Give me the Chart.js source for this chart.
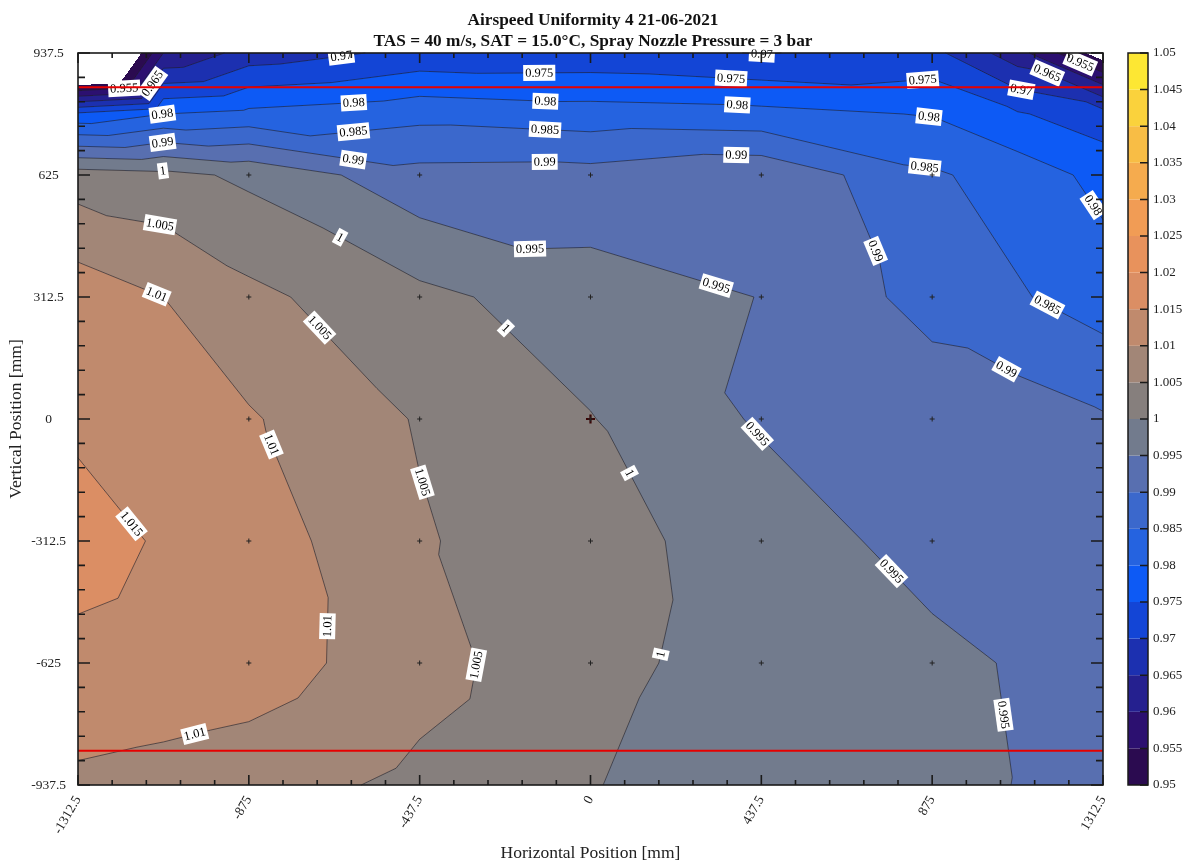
<!DOCTYPE html>
<html>
<head>
<meta charset="utf-8">
<title>Airspeed Uniformity 4 21-06-2021</title>
<script src="https://cdn.jsdelivr.net/npm/chart.js@4.4.1/dist/chart.umd.min.js"></script>
<style>
  html, body { margin: 0; padding: 0; background: #fff; }
</style>
</head>
<body>
<canvas id="chart" width="1186" height="864"></canvas>
<script>
// measurement grid [mm]
const xPos = [-1312.5, -1093.75, -875, -437.5, 0, 437.5, 875, 1093.75, 1312.5];
const yPos = [937.5, 781.25, 625, 312.5, 0, -312.5, -625, -937.5];

// normalised airspeed, one row per vertical position (top to bottom)
const z937 = [0.921, 0.960, 0.967, 0.9714, 0.9716, 0.9698, 0.9715, 0.962, 0.947];
const z781 = [0.976, 0.980, 0.9813, 0.9835, 0.9822, 0.9815, 0.9797, 0.9755, 0.972];
const z625 = [1.0025, 1.0015, 0.999, 0.9916, 0.9918, 0.9940, 0.9857, 0.9828, 0.9785];
const z312 = [1.013, 1.010, 1.0062, 1.0013, 0.9972, 0.9949, 0.9882, 0.9855, 0.9826];
const z0 = [1.0143, 1.0125, 1.0105, 1.0046, 1.0002, 0.9944, 0.9931, 0.9925, 0.9905];
const zm312 = [1.0165, 1.0146, 1.0126, 1.0055, 1.0014, 0.9982, 0.9928, 0.9922, 0.9915];
const zm625 = [1.014, 1.0133, 1.0125, 1.0070, 1.0010, 0.9985, 0.9965, 0.9945, 0.993];
const zm937 = [1.009, 1.0082, 1.0073, 1.0038, 1.0002, 0.9975, 0.9962, 0.9949, 0.9937];
const zRows = [z937, z781, z625, z312, z0, zm312, zm625, zm937];

// probe positions (dots) and the reference probe
const probeX = [-875, -437.5, 0, 437.5, 875];
const probeY = [625, 312.5, 0, -312.5, -625];
const refProbeX = [0];
const refProbeY = [0];

// red limit lines
const limitY = [850, -850];

// axis ticks
const xTickVals = [-1312.5, -875, -437.5, 0, 437.5, 875, 1312.5];
const yTickVals = [-937.5, -625, -312.5, 0, 312.5, 625, 937.5];
const cbTicks = [0.95, 0.955, 0.96, 0.965, 0.97, 0.975, 0.98, 0.985, 0.99, 0.995, 1,
                 1.005, 1.01, 1.015, 1.02, 1.025, 1.03, 1.035, 1.04, 1.045, 1.05];
const bandColors = ['#2b0b50', '#2c1070', '#25208f', '#1c30b0', '#1345d6',
                    '#0d5af5', '#2563e0', '#3b68cc', '#586fb0', '#727b8d',
                    '#867f7d', '#a28677', '#c08a6d', '#db8e64', '#e8925c',
                    '#f19c55', '#f5ab4e', '#f8bd45', '#fad23c', '#fde733'];

const serif = "'Liberation Serif', 'Times New Roman', serif";
Chart.defaults.font.family = serif;

function hexRgb(h) {
  return [parseInt(h.slice(1, 3), 16), parseInt(h.slice(3, 5), 16), parseInt(h.slice(5, 7), 16)];
}
const bandRgb = bandColors.map(hexRgb);

function cellOf(arr, v) {
  const asc = arr[1] > arr[0];
  for (let i = 0; i < arr.length - 1; i++) {
    const a = arr[i], b = arr[i + 1];
    if ((asc && v >= a && v <= b) || (!asc && v <= a && v >= b)) return [i, (v - a) / (b - a)];
  }
  return v < arr[0] === asc ? [0, 0] : [arr.length - 2, 1];
}

function valueAt(i, j, u, w) {
  const v00 = zRows[j][i], v10 = zRows[j][i + 1], v01 = zRows[j + 1][i], v11 = zRows[j + 1][i + 1];
  if (u >= w) return v00 + u * (v10 - v00) + w * (v11 - v10);
  return v00 + w * (v01 - v00) + u * (v11 - v01);
}

function levelText(L) { return String(+L.toFixed(3)); }

const contourPlugin = {
  id: 'contour',
  beforeDatasetsDraw(chart) {
    const {ctx, chartArea: a, scales: {x, y}} = chart;
    const left = Math.round(a.left), top = Math.round(a.top);
    const w = Math.round(a.right) - left, h = Math.round(a.bottom) - top;
    const lo = cbTicks[0], hi = cbTicks[cbTicks.length - 1];
    const step = (hi - lo) / bandColors.length;

    // filled bands, pixel by pixel
    const img = ctx.createImageData(w, h);
    const cols = [], rows = [];
    for (let px = 0; px < w; px++) cols.push(cellOf(xPos, x.getValueForPixel(left + px + 0.5)));
    for (let py = 0; py < h; py++) rows.push(cellOf(yPos, y.getValueForPixel(top + py + 0.5)));
    for (let py = 0; py < h; py++) {
      const [j, wv] = rows[py];
      for (let px = 0; px < w; px++) {
        const [i, u] = cols[px];
        const v = valueAt(i, j, u, wv);
        let c = [255, 255, 255];
        if (v >= lo && v <= hi) c = bandRgb[Math.min(bandColors.length - 1, Math.floor((v - lo) / step))];
        const k = (py * w + px) * 4;
        img.data[k] = c[0]; img.data[k + 1] = c[1]; img.data[k + 2] = c[2]; img.data[k + 3] = 255;
      }
    }
    ctx.putImageData(img, left, top);

    // contour lines (marching triangles on the same triangulation)
    const nx = xPos.length;
    const nodes = [];
    yPos.forEach((yv, j) => xPos.forEach((xv, i) => {
      nodes.push({x: x.getPixelForValue(xv), y: y.getPixelForValue(yv), v: zRows[j][i]});
    }));
    const tris = [];
    for (let j = 0; j < yPos.length - 1; j++) {
      for (let i = 0; i < nx - 1; i++) {
        const n00 = j * nx + i, n10 = n00 + 1, n01 = n00 + nx, n11 = n01 + 1;
        tris.push([n00, n10, n11], [n00, n01, n11]);
      }
    }
    const polylines = [];
    cbTicks.slice(1, -1).forEach(L => {
      const segs = [];
      const pts = new Map();
      tris.forEach(t => {
        const keys = [];
        [[t[0], t[1]], [t[1], t[2]], [t[0], t[2]]].forEach(([p, q]) => {
          const A = nodes[p], B = nodes[q];
          if ((A.v >= L) !== (B.v >= L)) {
            const key = Math.min(p, q) + '_' + Math.max(p, q);
            if (!pts.has(key)) {
              const s = (L - A.v) / (B.v - A.v);
              pts.set(key, {x: A.x + s * (B.x - A.x), y: A.y + s * (B.y - A.y)});
            }
            keys.push(key);
          }
        });
        if (keys.length === 2) segs.push(keys);
      });
      // chain segments into polylines
      const byKey = new Map();
      segs.forEach((s, idx) => s.forEach(k => {
        if (!byKey.has(k)) byKey.set(k, []);
        byKey.get(k).push(idx);
      }));
      const used = segs.map(() => false);
      const walk = (startKey, addFn) => {
        let key = startKey;
        for (;;) {
          const next = (byKey.get(key) || []).find(idx => !used[idx]);
          if (next === undefined) break;
          used[next] = true;
          const s = segs[next];
          key = s[0] === key ? s[1] : s[0];
          addFn(pts.get(key));
        }
      };
      // start from open ends first
      const isEnd = idx => segs[idx].some(k => byKey.get(k).length === 1) ? 0 : 1;
      const order = segs.map((s, idx) => idx).sort((p, q) => isEnd(p) - isEnd(q));
      order.forEach(idx => {
        if (used[idx]) return;
        used[idx] = true;
        let [k1, k2] = segs[idx];
        if (byKey.get(k2).length === 1) [k1, k2] = [k2, k1];
        const line = [pts.get(k1), pts.get(k2)];
        walk(k2, p => line.push(p));
        walk(k1, p => line.unshift(p));
        if (line[0].x > line[line.length - 1].x + 40) line.reverse();
        polylines.push({L, line});
      });
    });

    ctx.save();
    ctx.strokeStyle = 'rgba(30,30,40,0.75)';
    ctx.lineWidth = 0.8;
    polylines.forEach(({line}) => {
      ctx.beginPath();
      line.forEach((p, n) => n ? ctx.lineTo(p.x, p.y) : ctx.moveTo(p.x, p.y));
      ctx.stroke();
    });

    // inline labels along each line
    ctx.font = '12.5px ' + serif;
    ctx.textAlign = 'center';
    ctx.textBaseline = 'middle';
    const placed = [];
    const spacing = 192;
    polylines.forEach(({L, line}) => {
      const cum = [0];
      for (let n = 1; n < line.length; n++) {
        cum.push(cum[n - 1] + Math.hypot(line[n].x - line[n - 1].x, line[n].y - line[n - 1].y));
      }
      const total = cum[cum.length - 1];
      if (total < 30) return;
      const txt = levelText(L);
      const tw = ctx.measureText(txt).width + 4;
      for (let s = Math.min(85, total / 2); s < total - 10; s += spacing) {
        let n = 1;
        while (n < line.length - 1 && cum[n] < s) n++;
        const p0 = line[n - 1], p1 = line[n];
        const f = (s - cum[n - 1]) / Math.max(1e-6, cum[n] - cum[n - 1]);
        const px = p0.x + f * (p1.x - p0.x), py = p0.y + f * (p1.y - p0.y);
        if (placed.some(q => Math.hypot(q.x - px, q.y - py) < 26)) continue;
        placed.push({x: px, y: py});
        let ang = Math.atan2(p1.y - p0.y, p1.x - p0.x);
        if (ang > Math.PI / 2) ang -= Math.PI;
        if (ang < -Math.PI / 2) ang += Math.PI;
        ctx.save();
        ctx.translate(px, py);
        ctx.rotate(ang);
        ctx.fillStyle = '#fff';
        ctx.fillRect(-tw / 2, -8, tw, 16);
        ctx.fillStyle = '#000';
        ctx.fillText(txt, 0, 0.5);
        ctx.restore();
      }
    });
    ctx.restore();
  },
  afterDatasetsDraw(chart) {
    const {ctx, chartArea: a, scales: {x, y}} = chart;
    ctx.save();
    ctx.strokeStyle = '#1a1a1a';
    ctx.lineWidth = 1.6;
    ctx.strokeRect(a.left, a.top, a.right - a.left, a.bottom - a.top);
    ctx.beginPath();
    for (let v = x.min; v <= x.max + 1e-6; v += 87.5) {
      const major = xTickVals.some(t => Math.abs(t - v) < 1e-6);
      const len = major ? 10 : 5, px = x.getPixelForValue(v);
      ctx.moveTo(px, a.bottom); ctx.lineTo(px, a.bottom - len);
      ctx.moveTo(px, a.top); ctx.lineTo(px, a.top + len);
    }
    for (let v = y.min; v <= y.max + 1e-6; v += 62.5) {
      const major = yTickVals.some(t => Math.abs(t - v) < 1e-6);
      const len = major ? 12 : 7, py = y.getPixelForValue(v);
      ctx.moveTo(a.left, py); ctx.lineTo(a.left + len, py);
      ctx.moveTo(a.right, py); ctx.lineTo(a.right - len, py);
    }
    ctx.stroke();
    ctx.restore();
  },
  afterDraw(chart) {
    const {ctx, scales: {cb}} = chart;
    const x0 = 1128, x1 = 1148;
    ctx.save();
    bandColors.forEach((c, n) => {
      const yA = cb.getPixelForValue(cbTicks[n]), yB = cb.getPixelForValue(cbTicks[n + 1]);
      ctx.fillStyle = c;
      ctx.fillRect(x0, yB, x1 - x0, yA - yB);
    });
    ctx.strokeStyle = '#1a1a1a';
    ctx.lineWidth = 1.5;
    ctx.strokeRect(x0, cb.top, x1 - x0, cb.bottom - cb.top);
    ctx.beginPath();
    cbTicks.forEach(v => {
      const py = cb.getPixelForValue(v);
      ctx.moveTo(x1 - 8, py); ctx.lineTo(x1, py);
    });
    ctx.stroke();
    ctx.restore();
  }
};

const probes = [];
probeY.forEach(py => probeX.forEach(px => probes.push({x: px, y: py})));

new Chart(document.getElementById('chart'), {
  type: 'scatter',
  data: {
    datasets: [
      ...limitY.map(ly => ({
        type: 'line',
        data: [{x: xPos[0], y: ly}, {x: xPos[xPos.length - 1], y: ly}],
        borderColor: '#e60000',
        borderWidth: 2,
        pointRadius: 0
      })),
      {
        data: probes,
        pointStyle: 'cross',
        pointRadius: 2.5,
        borderWidth: 1,
        borderColor: '#222'
      },
      {
        data: refProbeX.map((v, n) => ({x: v, y: refProbeY[n]})),
        pointStyle: 'cross',
        pointRadius: 4.5,
        borderWidth: 2.2,
        borderColor: '#3a0505'
      }
    ]
  },
  options: {
    responsive: false,
    animation: false,
    layout: {padding: 0},
    plugins: {
      legend: {display: false},
      tooltip: {enabled: false},
      title: {
        display: true,
        text: ['Airspeed Uniformity 4 21-06-2021', 'TAS = 40 m/s, SAT = 15.0°C, Spray Nozzle Pressure = 3 bar'],
        color: '#111',
        font: {family: serif, size: 17.3, weight: 'bold', lineHeight: '21px'},
        padding: {top: 10, bottom: 1}
      }
    },
    scales: {
      x: {
        type: 'linear',
        min: xPos[0],
        max: xPos[xPos.length - 1],
        afterBuildTicks: s => { s.ticks = xTickVals.map(v => ({value: v})); },
        afterFit: s => { s.height = 79; },
        ticks: {
          autoSkip: false, minRotation: 60, maxRotation: 60, padding: 8,
          color: '#222', font: {size: 13.5},
          callback: v => String(v)
        },
        grid: {display: false, drawTicks: false},
        border: {display: false},
        title: {display: true, text: 'Horizontal Position [mm]', color: '#222',
                font: {size: 17.5}, padding: {top: 0, bottom: 0}}
      },
      y: {
        type: 'linear',
        min: yPos[yPos.length - 1],
        max: yPos[0],
        afterBuildTicks: s => { s.ticks = yTickVals.map(v => ({value: v})); },
        afterFit: s => { s.width = 78; },
        ticks: {crossAlign: 'center', padding: 12, color: '#222', font: {size: 13.5},
                callback: v => String(v)},
        grid: {display: false, drawTicks: false},
        border: {display: false},
        title: {display: true, text: 'Vertical Position [mm]', color: '#222',
                font: {size: 17.5}, padding: {top: 6, bottom: 0}}
      },
      cb: {
        type: 'linear',
        position: 'right',
        display: true,
        min: cbTicks[0],
        max: cbTicks[cbTicks.length - 1],
        afterBuildTicks: s => { s.ticks = cbTicks.map(v => ({value: v})); },
        afterFit: s => { s.width = 83; },
        ticks: {padding: 4, color: '#222', font: {size: 13}, callback: v => levelText(v)},
        grid: {display: true, drawOnChartArea: false, drawTicks: true, tickLength: 46,
               color: 'rgba(0,0,0,0)'},
        border: {display: false}
      }
    }
  },
  plugins: [contourPlugin]
});
</script>
</body>
</html>
